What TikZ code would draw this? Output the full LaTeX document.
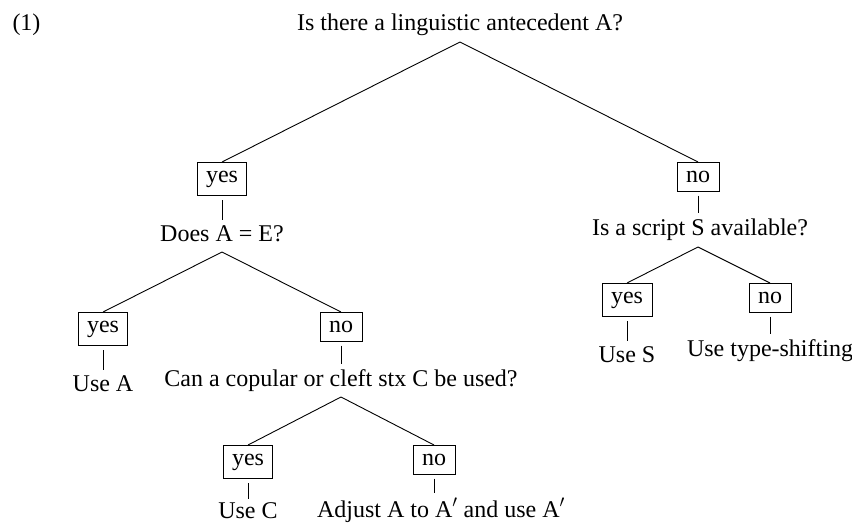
\documentclass[tikz,border=0pt]{standalone}
\usepackage{fontspec}
\setmainfont{Liberation Serif}
\begin{document}
\begin{tikzpicture}[x=1pt,y=-1pt,
  font=\fontsize{24}{28}\selectfont,
  lbl/.style={inner sep=0pt,anchor=base},
  ansbox/.style={draw,line width=1pt,inner xsep=9pt,inner ysep=8.5pt,anchor=north},
  edge/.style={line width=0.9pt},
  stem/.style={line width=0.9pt,shorten <=4pt,shorten >=5pt}]
\useasboundingbox (0,0) rectangle (852,523);
% root
\node[lbl] (ex) at (26.5,30) {(1)};
\node[lbl] (q0) at (460,30) {Is there a linguistic antecedent A?};
\coordinate (a0) at (460,42);
\node[ansbox] (y1) at (222,162) {yes};
\node[ansbox] (n1) at (698,162) {no};
\draw[edge] (y1.north) -- (a0) -- (n1.north);
% left subtree
\node[lbl] (q1) at (222,241) {Does A = E?};
\draw[stem] (y1.south) -- (y1.south |- q1.north);
\coordinate (a1) at (222,252);
\node[ansbox] (y2) at (103,312) {yes};
\node[ansbox] (n2) at (341,312) {no};
\draw[edge] (y2.north) -- (a1) -- (n2.north);
\node[lbl] (r1) at (103,391) {Use A};
\draw[stem] (y2.south) -- (y2.south |- r1.north);
\node[lbl] (q2) at (341,386) {Can a copular or cleft stx C be used?};
\draw[stem] (n2.south) -- (n2.south |- q2.north);
\coordinate (a2) at (341,397);
\node[ansbox] (y3) at (248,445) {yes};
\node[ansbox] (n3) at (434,445) {no};
\draw[edge] (y3.north) -- (a2) -- (n3.north);
\node[lbl] (r2) at (248,518) {Use C};
\draw[stem,shorten >=3pt] (y3.south) -- (y3.south |- r2.north);
\node[lbl] (r3) at (441,517) {Adjust A to A$'$ and use A$'$};
\draw[stem] (n3.south) -- (n3.south |- r3.north);
% right subtree
\node[lbl] (q3) at (700,235) {Is a script S available?};
\draw[stem] (n1.south) -- (n1.south |- q3.north);
\coordinate (a3) at (698,247);
\node[ansbox] (y4) at (627,283) {yes};
\node[ansbox] (n4) at (770,283) {no};
\draw[edge] (y4.north) -- (a3) -- (n4.north);
\node[lbl] (r4) at (627,362) {Use S};
\draw[stem] (y4.south) -- (y4.south |- r4.north);
\node[lbl] (r5) at (770,356) {Use type-shifting};
\draw[stem] (n4.south) -- (n4.south |- r5.north);
\end{tikzpicture}
\end{document}
